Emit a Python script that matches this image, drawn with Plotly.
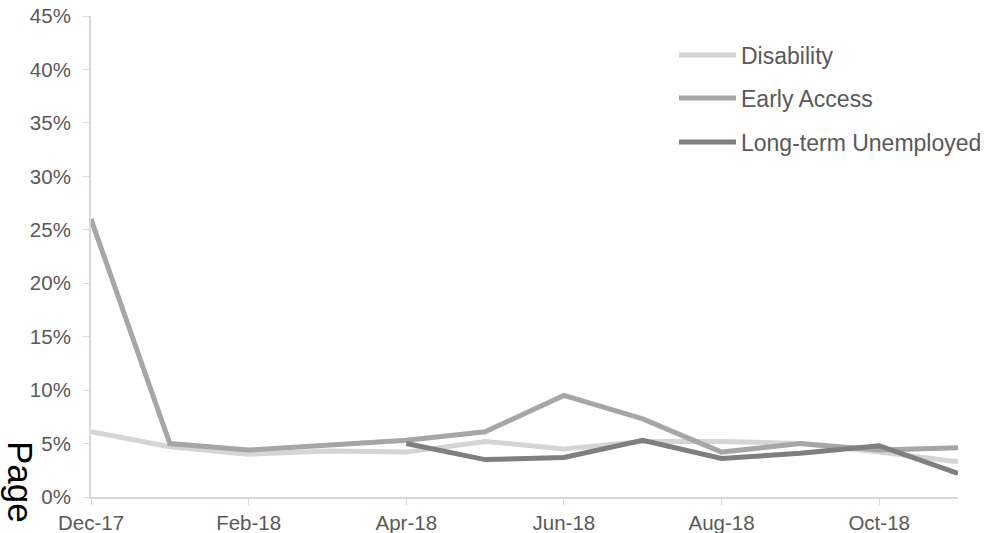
import plotly.graph_objects as go

months = ["Dec-17", "Jan-18", "Feb-18", "Mar-18", "Apr-18", "May-18",
          "Jun-18", "Jul-18", "Aug-18", "Sep-18", "Oct-18", "Nov-18"]
disability = [6.1, 4.7, 4.0, 4.3, 4.2, 5.2, 4.5, 5.2, 5.2, 5.0, 4.2, 3.3]
early_access = [26.0, 5.0, 4.4, 4.8, 5.3, 6.1, 9.5, 7.3, 4.2, 5.0, 4.4, 4.6]
long_term = [None, None, None, None, 5.0, 3.5, 3.7, 5.3, 3.6, 4.1, 4.8, 2.2]
tick_months = ["Dec-17", "Feb-18", "Apr-18", "Jun-18", "Aug-18", "Oct-18"]
y_ticks = [0, 5, 10, 15, 20, 25, 30, 35, 40, 45]

series = [
    ("Disability", disability, "#D5D5D6", "legend"),
    ("Early Access", early_access, "#A6A6A7", "legend2"),
    ("Long-term Unemployed", long_term, "#7F7F80", "legend3"),
]

fig = go.Figure()
for name, vals, color, lg in series:
    fig.add_trace(go.Scatter(
        x=months, y=vals, name=name, mode="lines",
        line=dict(color=color, width=5), connectgaps=False,
        legend=lg, showlegend=True,
    ))

W, H = 993, 533
ml, mr, mt, mb = 91, 35, 16, 36
pw, ph = W - ml - mr, H - mt - mb

def px_x(x):
    return (x - ml) / pw

def px_y(y):
    return (H - mb - y) / ph

FONT = "Liberation Sans, Arial, sans-serif"
legend_font = dict(family=FONT, size=23, color="#595959")
legend_common = dict(font=legend_font, bgcolor="rgba(0,0,0,0)", itemwidth=57,
                     xanchor="left", yanchor="middle", tracegroupgap=0,
                     visible=True)

fig.update_layout(
    template="none",
    width=W, height=H, showlegend=True,
    margin=dict(l=ml, r=mr, t=mt, b=mb, autoexpand=False),
    paper_bgcolor="white", plot_bgcolor="white",
    font=dict(family=FONT, size=20, color="#595959"),
    legend=dict(x=px_x(674), y=px_y(55), **legend_common),
    legend2=dict(x=px_x(674), y=px_y(98), **legend_common),
    legend3=dict(x=px_x(674), y=px_y(142), **legend_common),
    xaxis=dict(
        type="category", range=[0, 11], automargin=False,
        tickmode="array", tickvals=tick_months, ticktext=tick_months,
        showgrid=False, zeroline=False,
        showline=True, linecolor="#D9D9D9", linewidth=2,
        ticks="outside", ticklen=6, tickcolor="#D9D9D9", tickwidth=1,
        tickfont=dict(family=FONT, size=20.5, color="#595959"),
    ),
    yaxis=dict(
        range=[0, 45], automargin=False, tickmode="array", tickvals=y_ticks,
        ticktext=[f"{v}%" for v in y_ticks],
        showgrid=False, zeroline=False,
        showline=True, linecolor="#D9D9D9", linewidth=2,
        ticks="outside", ticklen=6, tickcolor="#D9D9D9", tickwidth=1,
        ticklabelstandoff=8,
        tickfont=dict(family=FONT, size=20.5, color="#595959"),
    ),
    annotations=[dict(
        text="Page", xref="paper", yref="paper",
        x=px_x(21), y=px_y(482), xanchor="center", yanchor="middle",
        textangle=90, showarrow=False,
        font=dict(family=FONT, size=35, color="#000000"),
    )],
)

fig.write_html("out.html")
